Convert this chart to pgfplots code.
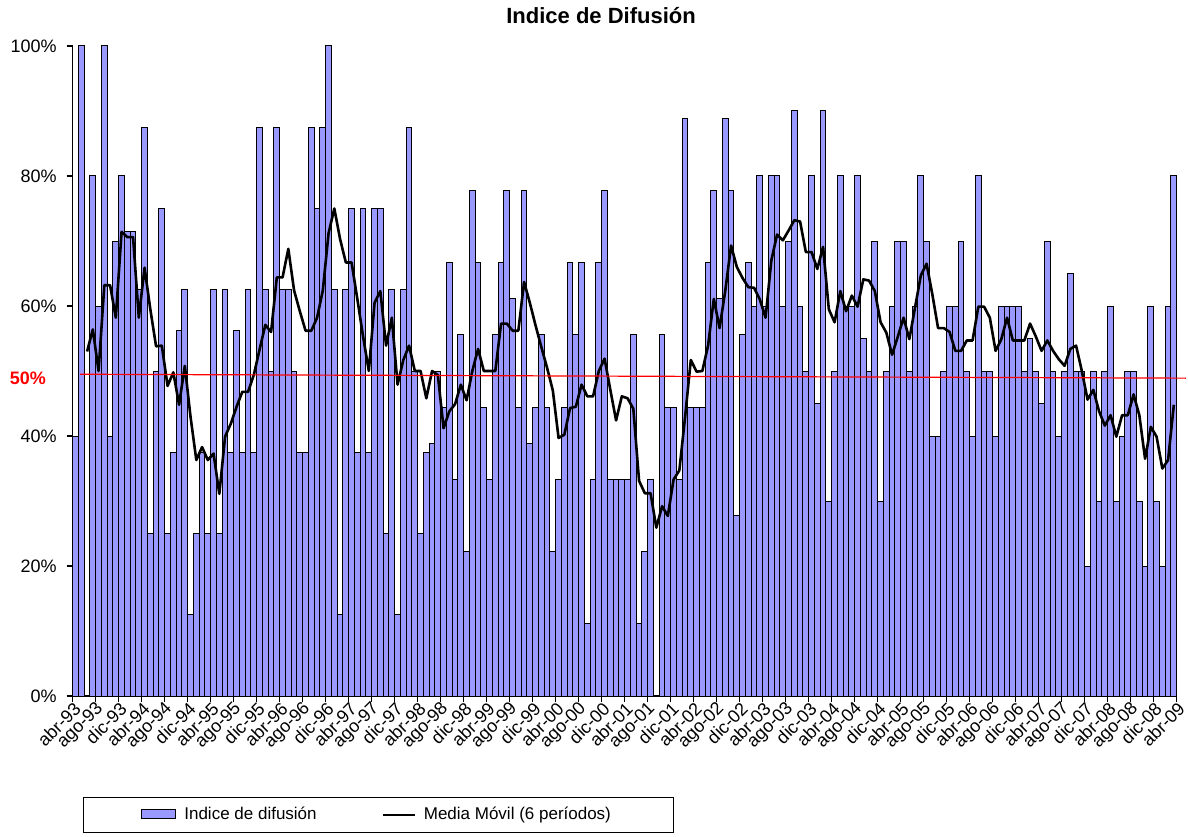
\documentclass[border=0pt]{standalone}
\usepackage{fontspec}
\setmainfont{Liberation Sans}
\usepackage{pgfplots}
\usepackage{pgfplotstable}
\pgfplotsset{compat=1.18}
\definecolor{barblue}{HTML}{9999FF}

\pgfplotstableread{
v
40
100
0
80
60
100
40
70
80
71.4
71.4
62.5
87.5
25
50
75
25
37.5
56.25
62.5
12.5
25
37.5
25
62.5
25
62.5
37.5
56.25
37.5
62.5
37.5
87.5
62.5
50
87.5
62.5
62.5
50
37.5
37.5
87.5
75
87.5
100
62.5
12.5
62.5
75
37.5
75
37.5
75
75
25
62.5
12.5
62.5
87.5
50
25
37.5
38.9
50
44.4
66.7
33.3
55.6
22.2
77.8
66.7
44.4
33.3
55.6
66.7
77.8
61.1
44.4
77.8
38.9
44.4
55.6
44.4
22.2
33.3
44.4
66.7
55.6
66.7
11.1
33.3
66.7
77.8
33.3
33.3
33.3
33.3
55.6
11.1
22.2
33.3
0
55.6
44.4
44.4
33.3
88.9
44.4
44.4
44.4
66.7
77.8
61.1
88.9
77.8
27.8
55.6
66.7
60
80
60
80
80
60
70
90
60
50
80
45
90
30
50
80
60
60
80
55
50
70
30
50
60
70
70
50
60
80
70
40
40
50
60
60
70
50
40
80
50
50
40
60
60
60
60
50
55
50
45
70
50
40
50
65
50
50
20
50
30
50
60
30
40
50
50
30
20
60
30
20
60
80
}\bars

\pgfplotstableread{
m
53.0
56.4
50.0
63.2
63.2
58.2
71.4
70.6
70.6
58.2
65.9
59.5
53.8
53.9
47.7
49.8
44.8
50.8
42.9
36.3
38.3
36.3
37.3
31.1
39.9
41.9
44.5
46.8
46.8
49.4
53.3
57.1
56.0
64.4
64.4
68.8
62.4
59.2
56.2
56.2
58.2
62.4
71.2
75.0
70.3
66.7
66.7
61.1
55.3
50.0
60.5
62.3
53.9
58.2
47.9
51.7
53.9
50.0
50.0
45.8
50.0
49.4
41.2
43.8
44.9
47.9
45.5
50.0
53.4
50.0
50.0
50.0
57.3
57.3
56.2
56.2
63.7
60.5
57.0
53.7
50.5
47.0
39.7
40.2
44.3
44.5
47.9
46.1
46.1
50.0
51.9
47.1
42.4
46.1
45.8
44.2
33.1
31.2
31.2
25.9
29.2
27.7
33.3
34.7
42.9
51.7
49.9
50.0
53.9
61.1
56.6
62.4
69.3
66.0
64.3
62.9
62.8
61.0
58.2
67.0
71.0
70.1
71.6
73.2
73.0
68.3
68.3
65.7
69.1
59.5
57.5
62.3
59.2
61.6
59.9
64.1
63.9
62.3
57.5
55.9
52.5
55.3
58.2
54.9
59.8
64.7
66.5
61.8
56.6
56.6
56.0
53.1
53.1
54.7
54.7
59.9
59.9
58.2
53.1
54.9
58.2
54.7
54.7
54.7
57.3
55.3
53.1
54.7
53.1
51.8
50.8
53.4
53.9
50.0
45.6
47.1
43.8
41.6
43.2
39.9
43.2
43.2
46.4
43.2
36.5
41.4
39.9
35.0
36.3
44.8
}\mavg

\begin{document}
\begin{tikzpicture}
\path[use as bounding box] (-36.35pt,-70pt) rectangle (557.65pt,348pt);
\begin{axis}[
  at={(0,0)}, anchor=south west,
  scale only axis, width=552pt, height=325pt,
  xmin=-0.5, xmax=191.5, ymin=0, ymax=100,
  axis lines=left, axis line style={-, line width=0.6pt},
  xtick={-0.5,3.5,...,191.5},
  xticklabels={abr-93,ago-93,dic-93,abr-94,ago-94,dic-94,abr-95,ago-95,dic-95,abr-96,ago-96,dic-96,abr-97,ago-97,dic-97,abr-98,ago-98,dic-98,abr-99,ago-99,dic-99,abr-00,ago-00,dic-00,abr-01,ago-01,dic-01,abr-02,ago-02,dic-02,abr-03,ago-03,dic-03,abr-04,ago-04,dic-04,abr-05,ago-05,dic-05,abr-06,ago-06,dic-06,abr-07,ago-07,dic-07,abr-08,ago-08,dic-08,abr-09},
  ytick={0,20,40,60,80,100},
  yticklabels={0\%,20\%,40\%,60\%,80\%,100\%},
  tick align=outside, major tick length=3pt,
  tick style={black, line width=0.6pt},
  yticklabel style={font=\fontsize{9}{10}\selectfont, xshift=-1.5pt},
  xticklabel style={font=\fontsize{9}{10}\selectfont, rotate=45, anchor=east, inner sep=1pt, xshift=1.5pt, yshift=-3pt},
  clip=false,
  legend style={at={(axis description cs:0.0093,-0.155)}, anchor=north west,
    legend columns=2, draw=black, fill=white, inner xsep=29pt, inner ysep=3pt,
    font=\fontsize{8.5}{10}\selectfont,
    /tikz/every even column/.append style={column sep=31pt},
    /tikz/every odd column/.append style={column sep=2pt},
    cells={anchor=west}},
]
\addplot[ybar, bar width=1, fill=barblue, draw=black, line width=0.5pt,
  legend image code/.code={\draw[fill=barblue, draw=black, line width=0.5pt] (0pt,-2pt) rectangle (17pt,2.5pt);}]
  table[x expr=\coordindex, y=v] {\bars};
\addlegendentry{Indice de difusión}
\addplot[black, line width=1.3pt, no marks, line join=round,
  legend image code/.code={\draw[black, line width=0.6pt] (0pt,0pt) -- (16pt,0pt);}]
  table[x expr=\coordindex+2, y=m] {\mavg};
\addlegendentry{Media Móvil (6 períodos)}
\draw[red, line width=0.6pt] (axis cs:0.8,49.5) -- (axis cs:193.1,48.9);
\node[anchor=east, text=red, font=\bfseries\fontsize{9}{10}\selectfont, xshift=-9.9pt] at (axis cs:-0.5,48.9) {50\%};
\end{axis}
\node[font=\bfseries\fontsize{11}{13}\selectfont] at (264.2pt,340pt) {Indice de Difusión};
\end{tikzpicture}
\end{document}
